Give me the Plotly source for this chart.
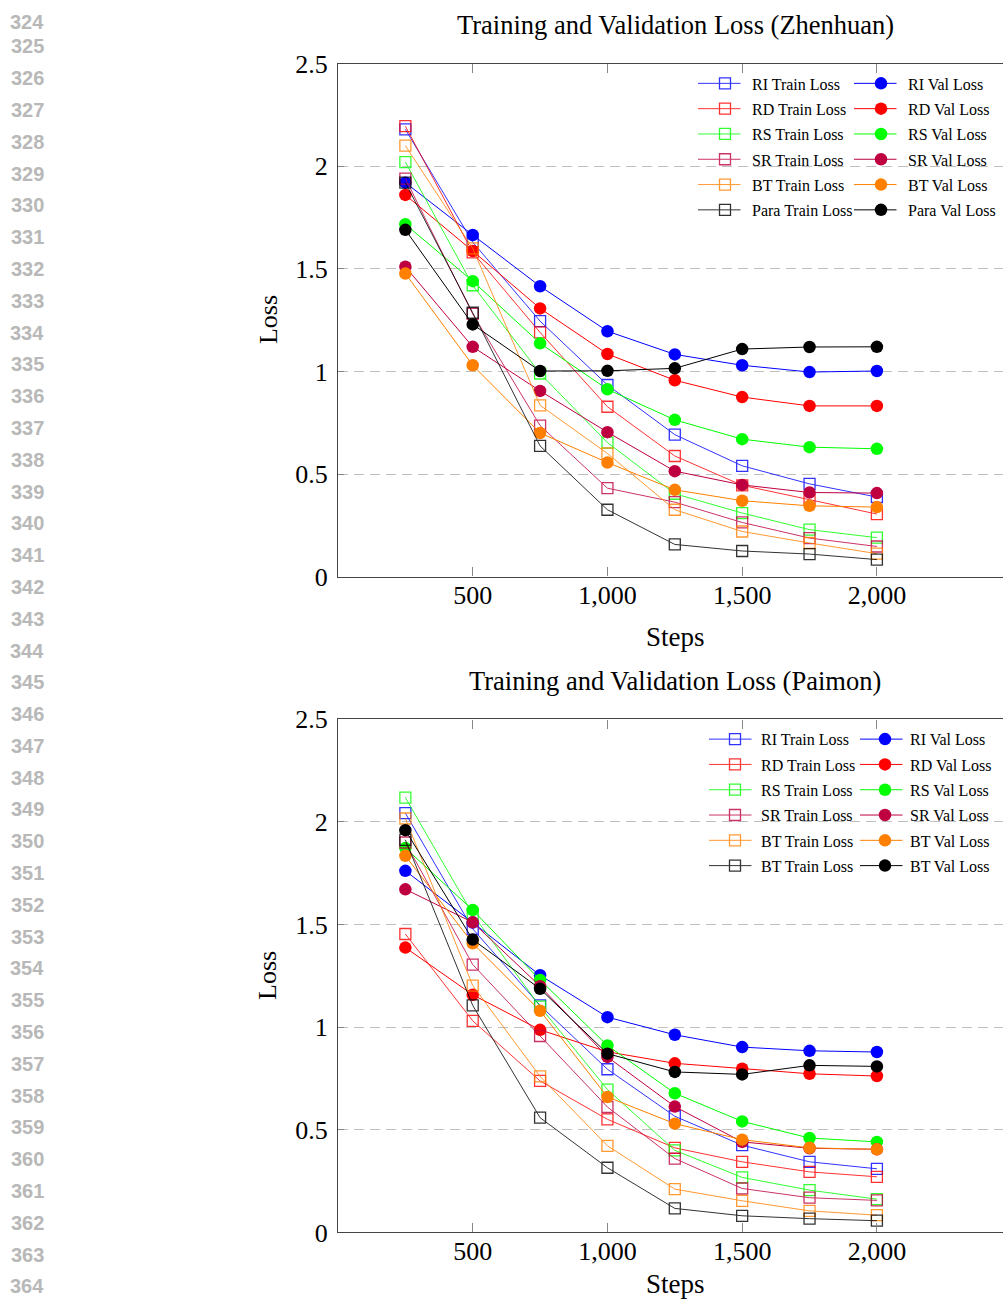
import plotly.graph_objects as go

W, H = 1003, 1310

steps = [250, 500, 750, 1000, 1250, 1500, 1750, 2000]
x_ticks = [500, 1000, 1500, 2000]
y_ticks = [0, 0.5, 1, 1.5, 2, 2.5]
line_numbers = list(range(324, 365))

methods = ["RI", "RD", "RS", "SR", "BT", "Para"]
colors = ["#0000ff", "#ff0000", "#00ff00", "#bf0040", "#ff8000", "#000000"]

# Zhenhuan
zh_ri_train = [2.18, 1.63, 1.245, 0.934, 0.692, 0.54, 0.452, 0.388]
zh_ri_val = [1.92, 1.665, 1.415, 1.196, 1.083, 1.03, 0.997, 1.002]
zh_rd_train = [2.195, 1.58, 1.19, 0.828, 0.588, 0.445, 0.375, 0.305]
zh_rd_val = [1.86, 1.587, 1.307, 1.085, 0.957, 0.875, 0.832, 0.832]
zh_rs_train = [2.02, 1.42, 0.99, 0.653, 0.404, 0.31, 0.229, 0.19]
zh_rs_val = [1.717, 1.44, 1.137, 0.913, 0.764, 0.67, 0.631, 0.623]
zh_sr_train = [1.94, 1.28, 0.736, 0.431, 0.363, 0.264, 0.188, 0.147]
zh_sr_val = [1.51, 1.12, 0.905, 0.704, 0.514, 0.447, 0.41, 0.407]
zh_bt_train = [2.10, 1.60, 0.835, 0.60, 0.326, 0.22, 0.164, 0.112]
zh_bt_val = [1.477, 1.03, 0.70, 0.556, 0.423, 0.37, 0.345, 0.339]
zh_para_train = [1.92, 1.286, 0.637, 0.326, 0.157, 0.125, 0.11, 0.083]
zh_para_val = [1.69, 1.229, 1.002, 1.003, 1.015, 1.109, 1.119, 1.12]

# Paimon
pm_ri_train = [2.043, 1.479, 1.106, 0.795, 0.566, 0.425, 0.344, 0.31]
pm_ri_val = [1.762, 1.51, 1.253, 1.049, 0.963, 0.903, 0.885, 0.879]
pm_rd_train = [1.454, 1.031, 0.738, 0.551, 0.412, 0.344, 0.295, 0.271]
pm_rd_val = [1.388, 1.158, 0.987, 0.88, 0.824, 0.798, 0.773, 0.762]
pm_rs_train = [2.119, 1.55, 1.10, 0.696, 0.40, 0.268, 0.206, 0.162]
pm_rs_val = [1.873, 1.571, 1.23, 0.911, 0.678, 0.541, 0.46, 0.441]
pm_sr_train = [1.90, 1.305, 0.957, 0.611, 0.36, 0.214, 0.169, 0.156]
pm_sr_val = [1.672, 1.511, 1.20, 0.855, 0.613, 0.441, 0.41, 0.405]
pm_bt_train = [2.017, 1.203, 0.76, 0.422, 0.211, 0.154, 0.105, 0.084]
pm_bt_val = [1.835, 1.409, 1.08, 0.66, 0.53, 0.452, 0.412, 0.405]
pm_para_train = [1.913, 1.106, 0.559, 0.315, 0.117, 0.081, 0.067, 0.057]
pm_para_val = [1.96, 1.427, 1.187, 0.871, 0.782, 0.77, 0.814, 0.809]

zh_train = [zh_ri_train, zh_rd_train, zh_rs_train, zh_sr_train, zh_bt_train, zh_para_train]
zh_val = [zh_ri_val, zh_rd_val, zh_rs_val, zh_sr_val, zh_bt_val, zh_para_val]
pm_train = [pm_ri_train, pm_rd_train, pm_rs_train, pm_sr_train, pm_bt_train, pm_para_train]
pm_val = [pm_ri_val, pm_rd_val, pm_rs_val, pm_sr_val, pm_bt_val, pm_para_val]

zh_train_labels = ["RI Train Loss", "RD Train Loss", "RS Train Loss", "SR Train Loss", "BT Train Loss", "Para Train Loss"]
zh_val_labels = ["RI Val Loss", "RD Val Loss", "RS Val Loss", "SR Val Loss", "BT Val Loss", "Para Val Loss"]
pm_train_labels = ["RI Train Loss", "RD Train Loss", "RS Train Loss", "SR Train Loss", "BT Train Loss", "BT Train Loss"]
pm_val_labels = ["RI Val Loss", "RD Val Loss", "RS Val Loss", "SR Val Loss", "BT Val Loss", "BT Val Loss"]

titles = ["Training and Validation Loss (Zhenhuan)", "Training and Validation Loss (Paimon)"]

SERIF = "Liberation Serif"

fig = go.Figure()

def add_panel(train, val, tl, vl, xa, ya, lg_train, lg_val, tag):
    for i in range(len(methods)):
        fig.add_trace(go.Scatter(
            x=steps, y=train[i], mode="lines+markers", name=tl[i],
            xaxis=xa, yaxis=ya, legend=lg_train, legendgroup=f"{tag}t{i}",
            line=dict(color=colors[i], width=1), opacity=0.8,
            marker=dict(symbol="square-open", size=11, color=colors[i], line=dict(width=1.3, color=colors[i])),
        ))
        fig.add_trace(go.Scatter(
            x=steps, y=val[i], mode="lines+markers", name=vl[i],
            xaxis=xa, yaxis=ya, legend=lg_val, legendgroup=f"{tag}v{i}",
            line=dict(color=colors[i], width=1),
            marker=dict(symbol="circle", size=12.5, color=colors[i]),
        ))

add_panel(zh_train, zh_val, zh_train_labels, zh_val_labels, "x", "y", "legend", "legend2", "z")
add_panel(pm_train, pm_val, pm_train_labels, pm_val_labels, "x2", "y2", "legend3", "legend4", "p")

# the photographed page shows figure rows at 13.3 + 0.9797*y, so place rows accordingly
def fy(px):
    return (px - 13.3) / 0.9797

def py(px):
    return 1 - fy(px) / H

x_dom = [338 / W, 1.0]
top_dom = [py(577), py(63)]
bot_dom = [py(1234), py(720)]

xcommon = dict(range=[0, 2468], tickvals=x_ticks, tickformat=",", ticks="inside", ticklen=9,
               tickcolor="#888888", showline=True, linecolor="#444444", linewidth=1.3, mirror="ticks",
               showgrid=False, zeroline=False, tickfont=dict(family=SERIF, size=26, color="black"),
               domain=x_dom, ticklabelstandoff=-5)
ycommon = dict(range=[0, 2.5], tickvals=y_ticks, ticks="inside", ticklen=6, tickcolor="#888888",
               showline=True, linecolor="#444444", linewidth=1.3, mirror=False,
               showgrid=True, gridcolor="#c0c0c0", griddash="10px,6px", gridwidth=1,
               zeroline=False, tickfont=dict(family=SERIF, size=26, color="black"),
               ticklabelstandoff=4)

legcommon = dict(bgcolor="rgba(0,0,0,0)", borderwidth=0, xanchor="left", yanchor="top",
                 font=dict(family=SERIF, size=16, color="black"), tracegroupgap=1.5,
                 traceorder="grouped")

def ly(row1_center):
    return 1 - (fy(row1_center) - 17.5) / H

fig.update_layout(
    width=W, height=H, margin=dict(l=0, r=0, t=0, b=0),
    paper_bgcolor="white", plot_bgcolor="white",
    xaxis=dict(**xcommon, anchor="y"),
    yaxis=dict(**ycommon, domain=top_dom, anchor="x"),
    xaxis2=dict(**xcommon, anchor="y2"),
    yaxis2=dict(**ycommon, domain=bot_dom, anchor="x2"),
    legend=dict(**legcommon, x=698 / W, y=ly(83), itemwidth=44),
    legend2=dict(**legcommon, x=854 / W, y=ly(83), itemwidth=44),
    legend3=dict(**legcommon, x=709 / W, y=ly(740), itemwidth=42),
    legend4=dict(**legcommon, x=860 / W, y=ly(740), itemwidth=40),
    showlegend=True,
)

ann = []
for t, yc in zip(titles, [24, 682]):
    ann.append(dict(text=t, x=675 / W, y=py(yc), xref="paper", yref="paper", showarrow=False,
                    xanchor="center", yanchor="middle", font=dict(family=SERIF, size=26.5, color="black")))
for yc in [637, 1286]:
    ann.append(dict(text="Steps", x=675 / W, y=py(yc), xref="paper", yref="paper", showarrow=False,
                    xanchor="center", yanchor="middle", font=dict(family=SERIF, size=27, color="black")))
for yc in [320, 977]:
    ann.append(dict(text="Loss", x=268 / W, y=py(yc), xref="paper", yref="paper", showarrow=False,
                    textangle=-90, xanchor="center", yanchor="middle",
                    font=dict(family=SERIF, size=26, color="black")))
for k, n in enumerate(line_numbers):
    yc = max(14 + 31.85 * k, 21)
    ann.append(dict(text=str(n), x=27 / W, y=py(yc), xref="paper", yref="paper",
                    showarrow=False, xanchor="center", yanchor="middle",
                    font=dict(family="Liberation Sans", size=20, color="#b8b8b8", weight="bold")))
fig.update_layout(annotations=ann)

post = ("document.documentElement.style.margin='0';document.documentElement.style.overflow='hidden';"
        "document.body.style.margin='0';document.body.style.padding='0';document.body.style.overflow='hidden';"
        "var gd=document.getElementById('{plot_id}');gd.style.position='fixed';gd.style.top='0px';"
        "gd.style.left='0px';"
        "function fixLegendLines(){gd.querySelectorAll('.legendlines path').forEach(function(p){"
        "p.setAttribute('d','M-2.5,0h45');});}"
        "fixLegendLines();setTimeout(fixLegendLines,50);setTimeout(fixLegendLines,300);"
        "if(gd.on){gd.on('plotly_afterplot',fixLegendLines);}")

fig.write_html("out.html", config={"displayModeBar": False}, post_script=post)
